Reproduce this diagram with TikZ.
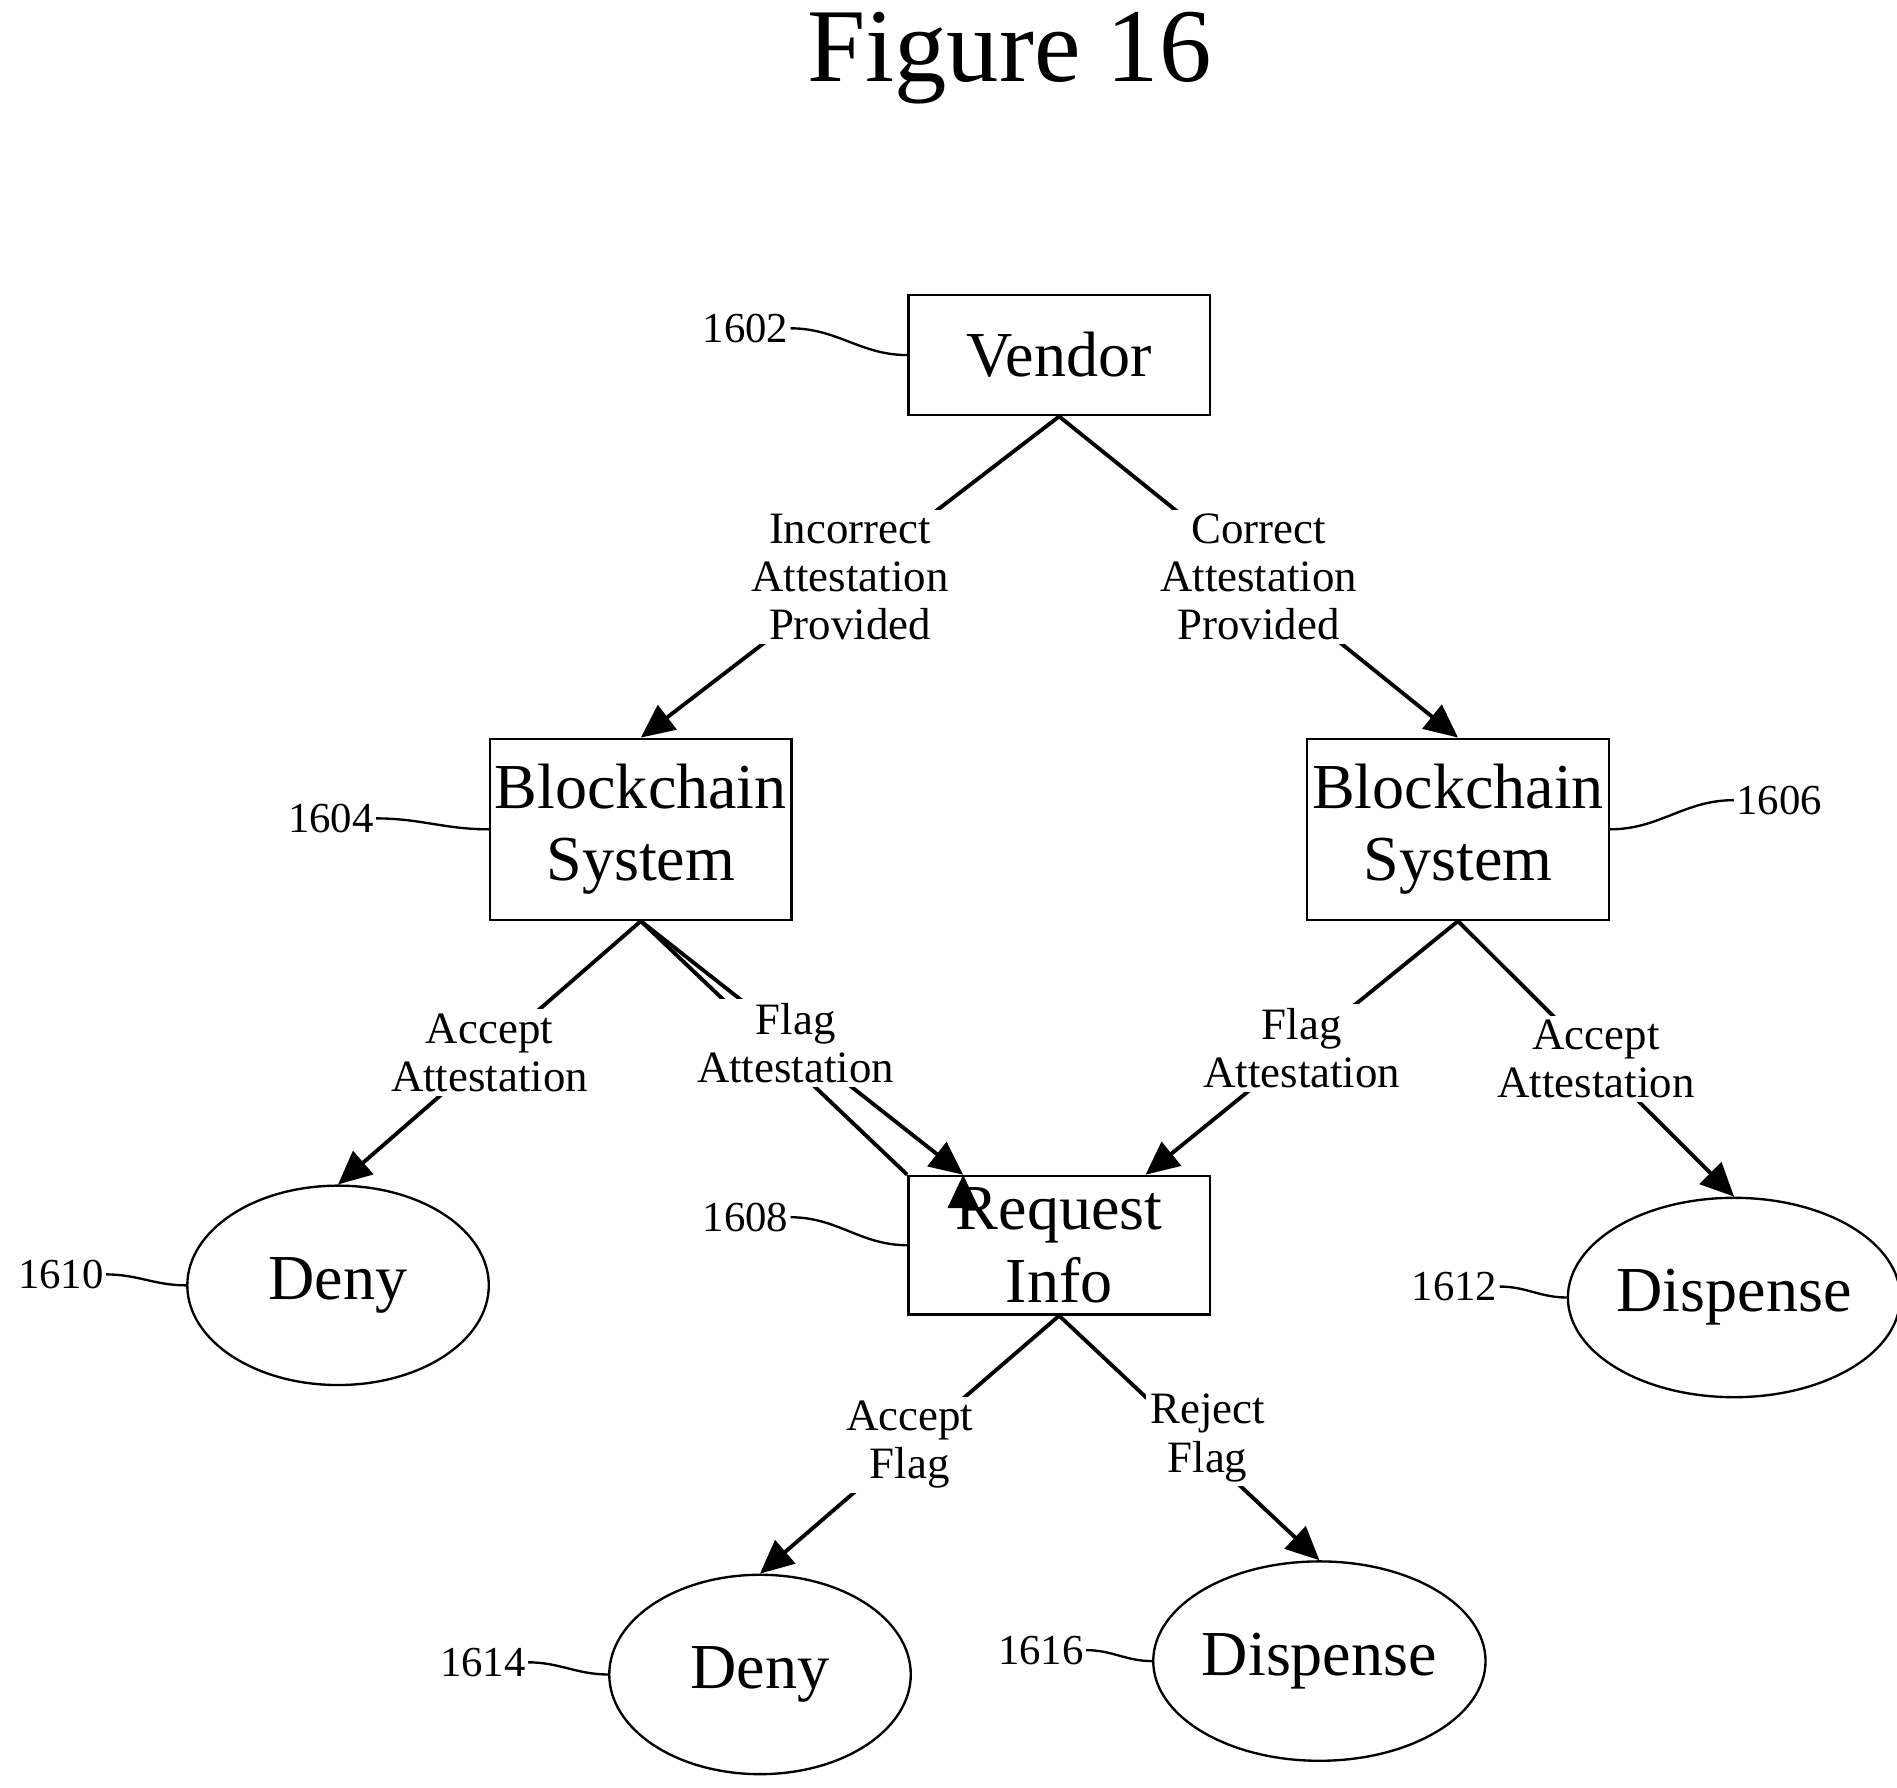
\documentclass[tikz,border=0pt]{standalone}
\usepackage{fontspec}
\setmainfont{Liberation Serif}
\usetikzlibrary{arrows.meta,shapes.geometric}
\begin{document}
\begin{tikzpicture}[x=0.02cm,y=-0.02cm,
  box/.style={draw,line width=1.1pt,minimum width=4.96cm,font=\fontsize{30}{34}\selectfont,align=center,inner sep=0pt},
  ell/.style={draw,ellipse,line width=1.1pt,minimum width=4.96cm,minimum height=3.28cm,font=\fontsize{30}{34}\selectfont,inner sep=0pt},
  lab/.style={fill=white,font=\fontsize{21}{22.5}\selectfont,align=center,inner sep=2pt},
  num/.style={font=\fontsize{20}{22}\selectfont,inner sep=1pt},
  arr/.style={line width=1.8pt,-{Triangle[length=0.55cm,width=0.5cm]}},
  lead/.style={line width=1.1pt}]
\useasboundingbox (0,0) rectangle (1560,1470);
\node[font=\fontsize{49}{55}\selectfont] (title) at (830,48) {Figure 16};
\node[box,minimum height=1.98cm] (v) at (871,292) {Vendor};
\node[box,minimum height=2.98cm] (b1) at (527,682) {Blockchain\\System};
\node[box,minimum height=2.98cm] (b2) at (1199,682) {Blockchain\\System};
\node[box,minimum height=2.28cm] (r) at (871,1024) {Request\\Info};
\node[ell] (d1) at (278,1057) {Deny};
\node[ell] (p1) at (1426,1067) {Dispense};
\node[ell] (d2) at (625,1377) {Deny};
\node[ell] (p2) at (1085,1366) {Dispense};
\draw[arr] (v.south) -- (b1.north) node[lab,pos=0.5] (l1) {Incorrect\\Attestation\\Provided};
\draw[arr] (v.south) -- (b2.north) node[lab,pos=0.5] (l2) {Correct\\Attestation\\Provided};
\draw[arr] (b1.south) -- (d1.north) node[lab,pos=0.5] (l3) {Accept\\Attestation};
\draw[arr] (b1.south) -- (r.north west) ++(46,0) coordinate (rt1);
\draw[arr] (b1.south) -- ([xshift=0.92cm]r.north west) node[lab,pos=0.48] (l4) {Flag\\Attestation};
\draw[arr] (b2.south) -- ([xshift=3.92cm]r.north west) node[lab,pos=0.5] (l5) {Flag\\Attestation};
\draw[arr] (b2.south) -- (p1.north) node[lab,pos=0.5] (l6) {Accept\\Attestation};
\draw[arr] (r.south) -- (d2.north) node[lab,pos=0.5] (l7) {Accept\\Flag};
\draw[arr] (r.south) -- (p2.north) node[lab,pos=0.5,xshift=0.3cm] (l8) {Reject\\Flag};
\node[num] (n1) at (613,270) {1602};
\node[num] (n2) at (272,673) {1604};
\node[num] (n3) at (1463,658) {1606};
\node[num] (n4) at (613,1001) {1608};
\node[num] (n5) at (50,1048) {1610};
\node[num] (n6) at (1196,1058) {1612};
\node[num] (n7) at (397,1367) {1614};
\node[num] (n8) at (856,1357) {1616};
\draw[lead] (n1.east) to[out=0,in=180] (v.west);
\draw[lead] (n2.east) to[out=0,in=180] (b1.west);
\draw[lead] (n3.west) to[out=180,in=0] (b2.east);
\draw[lead] (n4.east) to[out=0,in=180] (r.west);
\draw[lead] (n5.east) to[out=0,in=180] (d1.west);
\draw[lead] (n6.east) to[out=0,in=180] (p1.west);
\draw[lead] (n7.east) to[out=0,in=180] (d2.west);
\draw[lead] (n8.east) to[out=0,in=180] (p2.west);
\end{tikzpicture}
\end{document}
